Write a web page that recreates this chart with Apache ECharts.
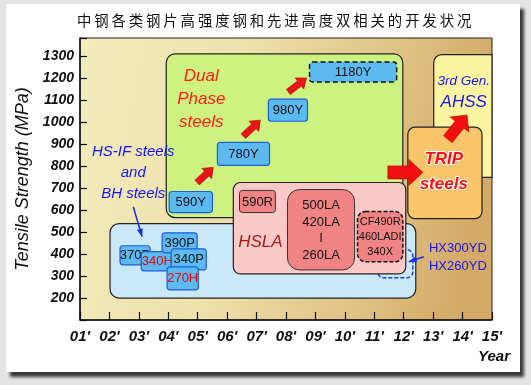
<!DOCTYPE html>
<html><head><meta charset="utf-8">
<script src="https://cdn.jsdelivr.net/npm/echarts@6/dist/echarts.min.js"></script>
<style>
html,body{margin:0;padding:0;background:#e4e4e4;width:531px;height:385px;overflow:hidden;}
#card{position:absolute;left:6px;top:4px;width:514px;height:368px;background:#fff;box-shadow:4px 5px 3px rgba(0,0,0,0.75);}
#c{position:absolute;left:0;top:0;width:531px;height:385px;}
</style>
</head><body><div id="card"></div><div id="c"></div>
<script>
// ---------------- data ----------------
const titleText = '中钢各类钢片高强度钢和先进高度双相关的开发状况';
const yearValues = [1,2,3,4,5,6,7,8,9,10,11,12,13,14,15];
const yearLabels = ["01'","02'","03'","04'","05'","06'","07'","08'","09'","10'","11'","12'","13'","14'","15'"];
const strengthTicks = [200,300,400,500,600,700,800,900,1000,1100,1200,1300];

// steel families (year span, tensile strength span in MPa)
const regionNames    = ['3rd Gen. AHSS','Dual Phase steels','HS-IF and BH steels','HX300YD / HX260YD','HSLA','TRIP steels'];
const regionYearFrom = [13.02, 3.93, 2.02, 11.12, 6.21, 12.14];
const regionYearTo   = [15.00, 11.97, 12.41, 12.31, 12.07, 14.66];
const regionMPaLow   = [749, 566, 200, 292, 310, 562];
const regionMPaHigh  = [1308, 1312, 539, 420, 726, 978];

// steel grades
const gradeNames    = ['590Y','780Y','980Y','1180Y','370P','340H','390P','340P','270H','590R','500LA\n420LA\nI\n260LA','CF490R\n460LADI\n340X'];
const gradeYearFrom = [4.03, 5.67, 7.40, 8.80, 2.36, 3.08, 3.79, 4.10, 3.96, 6.42, 8.05, 10.43];
const gradeYearTo   = [5.50, 7.44, 8.73, 11.76, 3.38, 4.17, 4.98, 5.29, 5.02, 7.64, 10.33, 11.97];
const gradeMPaLow   = [589, 804, 1005, 1184, 351, 324, 406, 328, 237, 589, 328, 365];
const gradeMPaHigh  = [685, 909, 1106, 1275, 438, 411, 497, 424, 342, 690, 694, 594];

// development arrows
const arrowFromYear = [4.98, 6.55, 8.08, 11.46, 13.50, 2.81, 12.68];
const arrowFromMPa  = [726, 937, 1138, 772, 923, 616, 388];
const arrowToYear   = [5.53, 7.13, 8.70, 12.65, 14.15, 3.11, 12.17];
const arrowToMPa    = [795, 1010, 1202, 772, 1033, 479, 365];

// annotations
const noteTexts = ['Dual\nPhase\nsteels','HS-IF steels\nand\nBH steels','HSLA','TRIP\nsteels','3rd Gen.','AHSS','HX300YD\nHX260YD'];
const noteYear  = [5.12, 2.81, 7.13, 13.36, 14.04, 14.04, 13.84];
const noteMPa   = [1106, 772, 452, 777, 1189, 1092, 383];

// ---------------- styles ----------------
const FONT = "'Liberation Sans', Arial, sans-serif";
const regionStyle = {
  '3rd Gen. AHSS':       {fill:'#fbf4a0', stroke:'#222', r:[8,0,0,0], dash:null, lw:1.2},
  'Dual Phase steels':   {fill:'#cdf27f', stroke:'#222', r:9, dash:null, lw:1.2},
  'HS-IF and BH steels': {fill:'#cbe8f8', stroke:'#222', r:9, dash:null, lw:1.2},
  'HX300YD / HX260YD':   {fill:'#cbe8f8', stroke:'#1a3de8', r:6, dash:[4,2], lw:1.5},
  'HSLA':                {fill:'#fcc9c9', stroke:'#222', r:7, dash:null, lw:1.2},
  'TRIP steels':         {fill:'#f9c46a', stroke:'#222', r:7, dash:null, lw:1.2}
};
function gradeStyle(name){
  const blue = {fill:'#5cbaf0', stroke:'#1d5be0', r:3, dash:null, lw:1.2, color:'#111', size:13, lh:15};
  if (name === '1180Y') return Object.assign({}, blue, {stroke:'#111', dash:[5,3], lw:1.5});
  if (name === '340H' || name === '270H') return Object.assign({}, blue, {color:'#ee0000'});
  if (name === '590R') return {fill:'#f08484', stroke:'#333', r:3, dash:null, lw:1, color:'#111', size:13, lh:15};
  if (name.indexOf('500LA') === 0) return {fill:'#f08484', stroke:'#333', r:12, dash:null, lw:1, color:'#111', size:13, lh:16.5};
  if (name.indexOf('CF490R') === 0) return {fill:'#f08484', stroke:'#111', r:8, dash:[4,2], lw:1.5, color:'#111', size:11, lh:15};
  return blue;
}
const noteStyle = [
  {fill:'#ff1a1a', font:'italic 17px '+FONT, lh:23},
  {fill:'#1515f0', font:'italic 15px '+FONT, lh:21},
  {fill:'#a81818', font:'italic 17px '+FONT, lh:20},
  {fill:'#ff1010', font:'italic bold 17px '+FONT, lh:25, stroke:'#fff', lw:2},
  {fill:'#1515f0', font:'italic 13.5px '+FONT, lh:16},
  {fill:'#1515f0', font:'italic 17px '+FONT, lh:20},
  {fill:'#1515f0', font:'13px '+FONT, lh:18}
];
const arrowStyle = [
  {kind:'poly', shaft:6.5, head:14, headL:9, fill:'#e8141a'},
  {kind:'poly', shaft:6.5, head:14, headL:9, fill:'#e8141a'},
  {kind:'poly', shaft:6.5, head:14, headL:9, fill:'#e8141a'},
  {kind:'poly', shaft:13, head:26, headL:14, fill:'#f01010'},
  {kind:'poly', shaft:11, head:24, headL:12, fill:'#f01010'},
  {kind:'line', color:'#1530e8'},
  {kind:'line', color:'#1530e8'}
];

function arrowPoly(p0, p1, sw, hw, hl){
  const dx=p1[0]-p0[0], dy=p1[1]-p0[1], L=Math.hypot(dx,dy);
  const ux=dx/L, uy=dy/L, nx=-uy, ny=ux;
  const bx=p1[0]-ux*hl, by=p1[1]-uy*hl;
  return [
    [p0[0]+nx*sw/2, p0[1]+ny*sw/2],[bx+nx*sw/2, by+ny*sw/2],[bx+nx*hw/2, by+ny*hw/2],
    [p1[0],p1[1]],
    [bx-nx*hw/2, by-ny*hw/2],[bx-nx*sw/2, by-ny*sw/2],[p0[0]-nx*sw/2, p0[1]-ny*sw/2]
  ];
}

function rectFromValues(api){
  const a = api.coord([api.value(0), api.value(3)]);
  const b = api.coord([api.value(1), api.value(2)]);
  return {x:a[0], y:a[1], width:b[0]-a[0], height:b[1]-a[1]};
}

const regionData = regionNames.map((n,i)=>[regionYearFrom[i], regionYearTo[i], regionMPaLow[i], regionMPaHigh[i]]);
const gradeData = gradeNames.map((n,i)=>[gradeYearFrom[i], gradeYearTo[i], gradeMPaLow[i], gradeMPaHigh[i]]);
const arrowData = arrowFromYear.map((v,i)=>[arrowFromYear[i], arrowToYear[i], arrowFromMPa[i], arrowToMPa[i]]);
const noteData = noteTexts.map((t,i)=>[noteYear[i], noteMPa[i]]);

const chart = echarts.init(document.getElementById('c'), null, {renderer:'canvas'});
chart.setOption({
  backgroundColor: 'transparent',
  animation: false,
  title: {
    text: titleText.split('').join('\u2009'),
    left: 72, top: 8,
    textStyle: {fontFamily:"'Noto Sans CJK SC', sans-serif", fontSize:14.4, fontWeight:'normal', color:'#111'}
  },
  grid: {
    left: 80, top: 38, right: 39, bottom: 65, show: true,
    borderColor: '#222', borderWidth: 1,
    backgroundColor: new echarts.graphic.LinearGradient(0,0,1,0.25,[
      {offset:0, color:'#f3ecbe'},{offset:0.4, color:'#eee0aa'},{offset:0.75, color:'#e0c386'},{offset:1, color:'#d4aa66'}
    ])
  },
  xAxis: {
    type:'value', min:1, max:15, interval:1,
    axisLine:{lineStyle:{color:'#111', width:1.5}},
    axisTick:{inside:true, length:8, lineStyle:{color:'#111', width:1.2}},
    splitLine:{show:false},
    axisLabel:{margin:9, color:'#111', fontFamily:FONT, fontStyle:'italic', fontWeight:'bold', fontSize:15,
      formatter: v => { const k = yearValues.indexOf(v); return k>=0 ? yearLabels[k] : ''; }}
  },
  yAxis: {
    type:'value', min:100, max:1384, interval:100,
    name:'Tensile Strength (MPa)', nameLocation:'middle', nameGap:44, nameRotate:90,
    nameTextStyle:{fontFamily:FONT, fontStyle:'italic', fontSize:18, color:'#111'},
    axisLine:{lineStyle:{color:'#111', width:1.5}},
    axisTick:{inside:true, length:7, lineStyle:{color:'#111', width:1.2}},
    splitLine:{show:false},
    axisLabel:{margin:6, color:'#111', fontFamily:FONT, fontStyle:'italic', fontWeight:'bold', fontSize:14,
      formatter: v => strengthTicks.indexOf(v)>=0 ? String(v) : ''}
  },
  graphic: [{
    type:'text', left: 478, top: 349,
    style:{text:'Year', fill:'#111', font:'italic bold 15px '+FONT}
  }],
  series: [
    {
      type:'custom', name:'families', coordinateSystem:'cartesian2d', clip:false, z:2,
      encode:{x:[0,1], y:[2,3]},
      data: regionData,
      renderItem: (params, api) => {
        const s = regionStyle[regionNames[params.dataIndex]];
        const r = rectFromValues(api);
        return {type:'rect', shape:Object.assign(r,{r:s.r}),
          style:{fill:s.fill, stroke:s.stroke, lineWidth:s.lw, lineDash:s.dash}};
      }
    },
    {
      type:'custom', name:'arrows', coordinateSystem:'cartesian2d', clip:false, z:3,
      encode:{x:[0,1], y:[2,3]},
      data: arrowData,
      renderItem: (params, api) => {
        const s = arrowStyle[params.dataIndex];
        const p0 = api.coord([api.value(0), api.value(2)]);
        const p1 = api.coord([api.value(1), api.value(3)]);
        if (s.kind === 'poly') {
          return {type:'polygon', shape:{points:arrowPoly(p0,p1,s.shaft,s.head,s.headL)},
            style:{fill:s.fill, stroke:'#b00000', lineWidth:0.6}};
        }
        return {type:'group', children:[
          {type:'line', shape:{x1:p0[0], y1:p0[1], x2:p1[0], y2:p1[1]}, style:{stroke:s.color, lineWidth:1.5}},
          {type:'polygon', shape:{points:arrowPoly(p0,p1,0,6,8)}, style:{fill:s.color}}
        ]};
      }
    },
    {
      type:'custom', name:'grades', coordinateSystem:'cartesian2d', clip:false, z:4,
      encode:{x:[0,1], y:[2,3]},
      data: gradeData,
      renderItem: (params, api) => {
        const name = gradeNames[params.dataIndex];
        const s = gradeStyle(name);
        const r = rectFromValues(api);
        const i = params.dataIndex;
        return {type:'group', children:[
          {type:'rect', z2:i*2, shape:Object.assign({}, r, {r:s.r}),
            style:{fill:s.fill, stroke:s.stroke, lineWidth:s.lw, lineDash:s.dash}},
          {type:'text', z2:i*2+1, style:{text:name, x:r.x+r.width/2, y:r.y+r.height/2+0.5,
            align:'center', verticalAlign:'middle', fill:s.color,
            font:s.size+'px '+FONT, lineHeight:s.lh}}
        ]};
      }
    },
    {
      type:'custom', name:'notes', coordinateSystem:'cartesian2d', clip:false, z:5,
      encode:{x:0, y:1},
      data: noteData,
      renderItem: (params, api) => {
        const s = noteStyle[params.dataIndex];
        const p = api.coord([api.value(0), api.value(1)]);
        const st = {text:noteTexts[params.dataIndex], x:p[0], y:p[1], align:'center', verticalAlign:'middle',
          fill:s.fill, font:s.font, lineHeight:s.lh};
        if (s.stroke) { st.stroke = s.stroke; st.lineWidth = s.lw; }
        return {type:'text', style:st};
      }
    }
  ]
});
</script>
</body></html>
